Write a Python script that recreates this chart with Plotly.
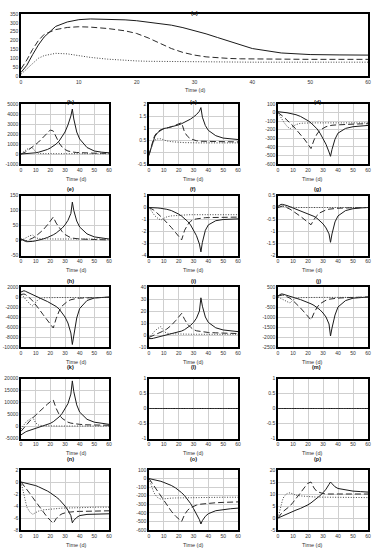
import plotly.graph_objects as go

# sample times (days)
T = [0, 1, 2, 3, 4, 6, 8, 10, 12, 15, 18, 20, 22, 24, 26, 28, 30, 32, 34, 35, 36, 38, 40, 45, 50, 55, 60]

a_solid = [20, 60, 120, 175, 220, 280, 305, 318, 322, 321, 317, 312, 305, 297, 287, 273, 257, 238, 217, 206, 196, 175, 155, 130, 121, 119, 118]
a_dashed = [40, 90, 150, 200, 235, 262, 274, 278, 276, 268, 255, 240, 215, 185, 155, 133, 118, 108, 102, 100, 99, 97, 96, 95, 94, 94, 94]
a_dotted = [10, 40, 75, 100, 115, 128, 125, 115, 105, 95, 88, 85, 83, 82, 81, 80, 80, 79, 79, 79, 79, 78, 78, 78, 78, 78, 78]

b_solid = [0, 5, 10, 15, 20, 40, 70, 120, 180, 300, 450, 600, 780, 1000, 1300, 1700, 2200, 2900, 3800, 4500, 3500, 2200, 1500, 650, 300, 180, 120]
b_dashed = [0, 50, 100, 200, 300, 500, 700, 950, 1200, 1650, 2100, 2400, 2300, 1700, 1100, 700, 450, 300, 220, 200, 180, 150, 130, 100, 80, 70, 60]
b_dotted = [0, 120, 250, 380, 480, 560, 600, 200, 60, 40, 30, 30, 30, 30, 30, 30, 30, 30, 30, 30, 30, 30, 30, 30, 30, 30, 30]

c_solid = [-0.1, 0.1, 0.3, 0.5, 0.65, 0.82, 0.92, 0.98, 1.0, 1.04, 1.09, 1.13, 1.18, 1.24, 1.3, 1.37, 1.46, 1.56, 1.7, 1.85, 1.45, 1.1, 0.9, 0.68, 0.58, 0.54, 0.52]
c_dashed = [-0.15, 0.1, 0.35, 0.55, 0.7, 0.85, 0.93, 0.98, 1.0, 1.05, 1.12, 1.17, 1.22, 0.82, 0.65, 0.55, 0.5, 0.47, 0.45, 0.45, 0.44, 0.43, 0.43, 0.42, 0.42, 0.42, 0.42]
c_dotted = [-0.1, 0.1, 0.3, 0.42, 0.5, 0.55, 0.55, 0.5, 0.46, 0.43, 0.41, 0.4, 0.4, 0.39, 0.39, 0.38, 0.38, 0.38, 0.38, 0.38, 0.38, 0.38, 0.38, 0.38, 0.38, 0.38, 0.38]

d_solid = [10, 10, 8, 5, 2, -2, -8, -15, -25, -45, -70, -95, -120, -150, -190, -240, -300, -370, -460, -510, -430, -310, -240, -185, -165, -155, -150]
d_dashed = [0, -10, -25, -40, -55, -85, -120, -155, -195, -255, -320, -370, -420, -320, -250, -205, -180, -165, -155, -150, -148, -145, -142, -138, -135, -132, -130]
d_dotted = [0, -30, -60, -90, -115, -160, -190, -160, -140, -125, -120, -120, -120, -120, -120, -120, -120, -120, -120, -120, -120, -120, -120, -120, -120, -120, -120]

e_solid = [5, 2, -1, -3, -4, -4, -3, -1, 1, 5, 10, 14, 19, 25, 32, 41, 52, 67, 90, 128, 100, 65, 45, 22, 12, 8, 5]
e_dashed = [5, 3, 1, 0, 0, 3, 8, 14, 22, 35, 52, 65, 78, 58, 42, 30, 20, 13, 9, 8, 7, 6, 5, 4, 3, 3, 2]
e_dotted = [0, 3, 6, 9, 12, 16, 18, 10, 6, 5, 5, 5, 5, 5, 5, 5, 5, 5, 5, 5, 5, 5, 5, 5, 5, 5, 5]

f_solid = [0, 0, 0, -0.01, -0.02, -0.04, -0.07, -0.1, -0.15, -0.25, -0.4, -0.55, -0.72, -0.92, -1.15, -1.45, -1.85, -2.35, -3.05, -3.7, -2.9, -1.9, -1.45, -1.1, -1.0, -0.97, -0.95]
f_dashed = [0, -0.05, -0.12, -0.2, -0.3, -0.5, -0.75, -1.0, -1.25, -1.65, -2.1, -2.4, -2.7, -1.9, -1.45, -1.15, -1.0, -0.95, -0.9, -0.88, -0.87, -0.85, -0.84, -0.82, -0.8, -0.8, -0.8]
f_dotted = [0, -0.2, -0.4, -0.55, -0.7, -0.9, -1.05, -0.9, -0.78, -0.7, -0.66, -0.64, -0.63, -0.62, -0.61, -0.6, -0.6, -0.6, -0.6, -0.6, -0.6, -0.6, -0.6, -0.6, -0.6, -0.6, -0.6]

g_solid = [0.05, 0.1, 0.13, 0.13, 0.12, 0.08, 0.03, -0.02, -0.06, -0.12, -0.19, -0.24, -0.3, -0.37, -0.45, -0.55, -0.68, -0.85, -1.1, -1.45, -1.1, -0.6, -0.35, -0.13, -0.05, -0.02, 0.0]
g_dashed = [0, 0.03, 0.05, 0.06, 0.05, 0.0, -0.07, -0.15, -0.23, -0.37, -0.52, -0.61, -0.72, -0.5, -0.33, -0.22, -0.15, -0.1, -0.07, -0.06, -0.05, -0.04, -0.03, -0.02, -0.01, 0, 0]
g_dotted = [0, 0.04, 0.06, 0.06, 0.05, 0.03, 0.01, 0, 0, 0, 0, 0, 0, 0, 0, 0, 0, 0, 0, 0, 0, 0, 0, 0, 0, 0, 0]

h_solid = [1000, 1200, 1250, 1150, 1000, 700, 400, 100, -150, -500, -900, -1200, -1500, -1900, -2400, -3100, -4000, -5200, -7200, -9500, -7500, -4200, -2300, -700, -200, -50, 0]
h_dashed = [500, 600, 600, 500, 300, -200, -800, -1500, -2300, -3500, -4700, -5400, -6200, -4300, -2800, -1800, -1200, -800, -550, -450, -380, -280, -220, -150, -100, -80, -60]
h_dotted = [500, 300, 0, -400, -800, -1400, -1800, -1000, -400, -150, -100, -100, -100, -100, -100, -100, -100, -100, -100, -100, -100, -100, -100, -100, -100, -100, -100]

i_solid = [-3, -3.2, -3, -2.7, -2.4, -1.8, -1.2, -0.6, 0, 0.8, 1.7, 2.4, 3.3, 4.5, 6, 8, 10.5, 14, 20, 31, 24, 15, 10.5, 6, 4.2, 3.3, 2.8]
i_dashed = [-2, -1.5, -1, -0.5, 0, 1, 2, 3.5, 5, 8, 12, 15, 18, 13, 9, 6.5, 4.5, 3.5, 3, 2.8, 2.6, 2.3, 2.1, 1.8, 1.5, 1.3, 1.2]
i_dotted = [-2, -1, 0.5, 2, 3.5, 5.5, 7, 3, 1.5, 1, 0.8, 0.7, 0.7, 0.6, 0.6, 0.6, 0.6, 0.6, 0.6, 0.6, 0.6, 0.6, 0.6, 0.6, 0.6, 0.6, 0.6]

j_solid = [50, 120, 150, 150, 130, 90, 40, -10, -60, -130, -210, -270, -340, -420, -520, -640, -800, -1000, -1350, -1950, -1550, -900, -500, -180, -60, -20, 0]
j_dashed = [50, 80, 100, 100, 80, 20, -60, -180, -320, -550, -800, -950, -1150, -800, -520, -340, -230, -160, -110, -95, -85, -70, -55, -35, -20, -10, 0]
j_dotted = [0, -30, -70, -110, -150, -230, -300, -150, -60, -30, -20, -20, -20, -20, -20, -20, -20, -20, -20, -20, -20, -20, -20, -20, -20, -20, -20]

k_solid = [-3500, -3000, -2600, -2300, -2000, -1600, -1200, -800, -400, 200, 800, 1300, 2000, 2900, 4000, 5400, 7200, 9500, 13500, 19000, 14500, 9000, 6000, 3000, 1800, 1200, 900]
k_dashed = [-2000, -1200, -400, 300, 1000, 2300, 3600, 4800, 6000, 7800, 9300, 10300, 11000, 7500, 5000, 3400, 2400, 1800, 1400, 1300, 1200, 1000, 900, 700, 600, 550, 500]
k_dotted = [-1000, 0, 800, 1500, 2200, 3200, 3800, 1500, 600, 300, 200, 200, 200, 200, 200, 200, 200, 200, 200, 200, 200, 200, 200, 200, 200, 200, 200]

flat_zero = [0, 0, 0, 0, 0, 0, 0, 0, 0, 0, 0, 0, 0, 0, 0, 0, 0, 0, 0, 0, 0, 0, 0, 0, 0, 0, 0]

n_solid = [0, -0.05, -0.1, -0.15, -0.2, -0.3, -0.45, -0.6, -0.8, -1.1, -1.5, -1.8, -2.1, -2.5, -2.9, -3.4, -4.0, -4.7, -5.6, -6.8, -6.4, -5.9, -5.6, -5.4, -5.35, -5.3, -5.3]
n_dashed = [0, -0.3, -0.6, -0.9, -1.2, -1.9, -2.6, -3.3, -4.0, -5.0, -5.9, -6.4, -6.9, -6.1, -5.6, -5.3, -5.1, -5.0, -5.0, -4.95, -4.95, -4.9, -4.9, -4.85, -4.8, -4.8, -4.8]
n_dotted = [0, -1.2, -2.4, -3.4, -4.2, -5.0, -5.4, -5.1, -4.85, -4.65, -4.55, -4.5, -4.45, -4.4, -4.4, -4.35, -4.35, -4.3, -4.3, -4.3, -4.3, -4.3, -4.25, -4.25, -4.2, -4.2, -4.2]

o_solid = [0, -3, -6, -10, -14, -22, -32, -45, -58, -80, -110, -135, -165, -200, -240, -290, -350, -410, -480, -530, -490, -440, -410, -375, -360, -352, -345]
o_dashed = [0, -25, -50, -75, -100, -150, -200, -260, -310, -380, -440, -470, -500, -420, -370, -340, -320, -310, -300, -298, -295, -290, -287, -282, -278, -275, -272]
o_dotted = [0, -60, -110, -150, -185, -225, -240, -235, -230, -228, -226, -225, -224, -223, -222, -221, -220, -220, -220, -220, -220, -219, -219, -218, -218, -218, -218]

p_solid = [0, 0.3, 0.6, 0.9, 1.2, 1.8, 2.3, 2.8, 3.3, 4, 4.8, 5.5, 6.3, 7.2, 8.2, 9.3, 10.5, 12, 14, 15, 14.3, 13, 12.3, 11.6, 11.2, 11, 10.8]
p_dashed = [0, 1, 2, 2.5, 3, 4, 5, 6.5, 8, 10.5, 13, 14.5, 15, 12.5, 11, 10.5, 10.2, 10, 10, 10, 10, 10, 10, 10, 10, 10, 10]
p_dotted = [0, 3, 5.5, 7.5, 9, 10.2, 10.5, 10, 9.5, 9.2, 9, 8.9, 8.8, 8.8, 8.7, 8.7, 8.7, 8.6, 8.6, 8.6, 8.6, 8.6, 8.5, 8.5, 8.5, 8.5, 8.5]

W, H = 374, 550
COLS = [(21, 109), (149, 238), (278, 368)]
ROW_TOPS = [104, 195.5, 287, 378.5, 470]
ROW_H = 60

# panel label, series, y range, y step
panels = [
    ("(b)", (b_solid, b_dashed, b_dotted), (-1000, 5000), 1000),
    ("(c)", (c_solid, c_dashed, c_dotted), (-0.5, 2), 0.5),
    ("(d)", (d_solid, d_dashed, d_dotted), (-600, 100), 100),
    ("(e)", (e_solid, e_dashed, e_dotted), (-50, 150), 50),
    ("(f)", (f_solid, f_dashed, f_dotted), (-4, 1), 1),
    ("(g)", (g_solid, g_dashed, g_dotted), (-2, 0.5), 0.5),
    ("(h)", (h_solid, h_dashed, h_dotted), (-10000, 2000), 2000),
    ("(i)", (i_solid, i_dashed, i_dotted), (-10, 40), 10),
    ("(j)", (j_solid, j_dashed, j_dotted), (-2500, 500), 500),
    ("(k)", (k_solid, k_dashed, k_dotted), (-5000, 20000), 5000),
    ("(l)", (flat_zero, flat_zero, flat_zero), (-1, 1), 0.5),
    ("(m)", (flat_zero, flat_zero, flat_zero), (-1, 1), 0.5),
    ("(n)", (n_solid, n_dashed, n_dotted), (-8, 2), 2),
    ("(o)", (o_solid, o_dashed, o_dotted), (-600, 100), 100),
    ("(p)", (p_solid, p_dashed, p_dotted), (-5, 20), 5),
]

STYLES = [
    dict(color="#1a1a1a", width=1),
    dict(color="#2a2a2a", width=1, dash="6px,3px"),
    dict(color="#444444", width=1, dash="1px,1.6px"),
]
FONT = dict(family="Liberation Sans, Arial", size=5, color="#333333")

fig = go.Figure()
layout = dict(
    width=W, height=H, autosize=False,
    margin=dict(l=0, r=0, t=0, b=0),
    paper_bgcolor="white", plot_bgcolor="white",
    showlegend=False, font=FONT,
)
annotations = []


def ticks(lo, hi, step):
    n = int(round((hi - lo) / step))
    vals = [lo + k * step for k in range(n + 1)]
    return vals, [f"{v:g}" for v in vals]


def add_panel(idx, label, series, yr, ystep, x0, x1, top, bottom, grid=True):
    ax = "" if idx == 1 else str(idx)
    for ys, st in zip(series, STYLES):
        fig.add_trace(go.Scatter(x=T, y=ys, mode="lines", line=st,
                                 xaxis="x" + ax, yaxis="y" + ax,
                                 hoverinfo="skip"))
    xv, xt = ticks(0, 60, 10)
    yv, yt = ticks(yr[0], yr[1], ystep)
    common = dict(showline=True, mirror=True, linecolor="black", linewidth=1.5,
                  showgrid=grid, gridcolor="#cfcfcf", gridwidth=1,
                  zeroline=False, ticks="", tickfont=FONT, ticklen=0,
                  automargin=False)
    layout["xaxis" + ax] = dict(common, domain=[x0 / W, x1 / W], range=[0, 60],
                                tickvals=xv, ticktext=xt,
                                anchor="y" + ax)
    layout["yaxis" + ax] = dict(common, domain=[1 - bottom / H, 1 - top / H],
                                range=list(yr), tickvals=yv, ticktext=yt,
                                anchor="x" + ax)
    cx = (x0 + x1) / 2 / W
    annotations.append(dict(text="<b>" + label + "</b>", x=cx, y=1 - (top - 6.5) / H,
                            xref="paper", yref="paper", showarrow=False,
                            font=dict(FONT, color="#111111", size=5.5)))
    annotations.append(dict(text="Time (d)", x=cx, y=1 - (bottom + 10.5) / H,
                            yanchor="top", borderpad=0,
                            xref="paper", yref="paper", showarrow=False,
                            font=dict(FONT, size=5.5)))


add_panel(1, "(a)", (a_solid, a_dashed, a_dotted), (0, 350), 50, 21, 368, 14, 76, grid=False)
for k, (label, series, yr, ystep) in enumerate(panels):
    r, c = divmod(k, 3)
    x0, x1 = COLS[c]
    top = ROW_TOPS[r]
    add_panel(k + 2, label, series, yr, ystep, x0, x1, top, top + ROW_H)

layout["annotations"] = annotations
fig.update_layout(**layout)
fig.write_html("out.html", config={"displayModeBar": False},
               post_script="document.body.style.margin='0';")
